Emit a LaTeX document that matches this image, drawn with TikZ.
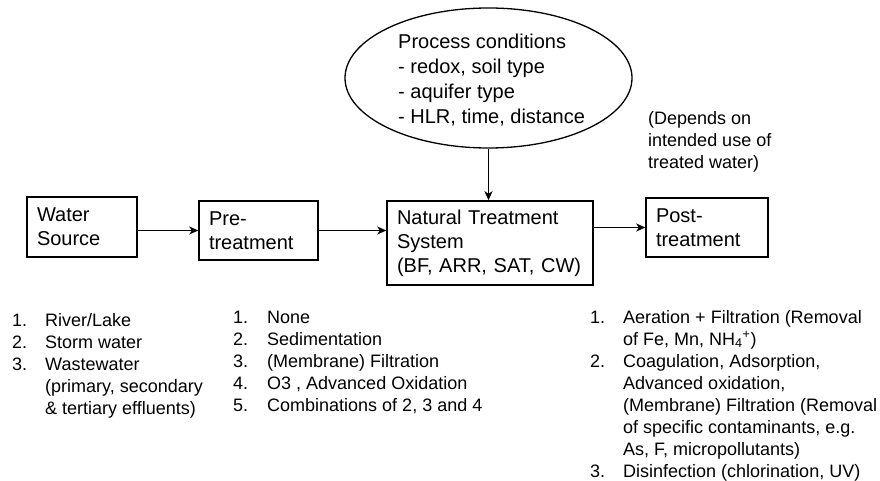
\documentclass[tikz,border=0pt]{standalone}
\usepackage{fontspec}
\setmainfont{Liberation Sans}
\usetikzlibrary{shapes.geometric,arrows.meta}
\tikzset{
  box/.style={draw, line width=1.5pt, inner xsep=10pt, inner ysep=0pt, align=left,
    font=\fontsize{20}{24}\selectfont},
  flow/.style={line width=1.5pt, -{Stealth[length=9pt,width=8pt,inset=2.5pt]}},
  listtext/.style={inner sep=0pt, anchor=base west, font=\fontsize{18}{22}\selectfont},
}
\begin{document}
\begin{tikzpicture}[x=1pt,y=-1pt]
\useasboundingbox (0,0) rectangle (880,481);
\fill[white] (0,0) rectangle (880,481);

\node[box, minimum width=110pt, minimum height=60pt, text width=90pt] (ws) at (82,227) {Water\\Source};
\node[box, minimum width=119pt, minimum height=59pt, text width=99pt] (pre) at (258.5,230.5) {Pre-\\treatment};
\node[box, minimum width=206pt, minimum height=84pt, text width=186pt] (nts) at (490,243) {Natural Treatment\\System\\(BF, ARR, SAT, CW)};
\node[box, minimum width=122pt, minimum height=59pt, text width=102pt] (post) at (707,227.5) {Post-\\treatment};

\node[draw, ellipse, line width=1.3pt, minimum width=287pt, minimum height=140pt, inner sep=0pt] (ell) at (488.5,78) {};
\node[inner sep=0pt, anchor=base west, font=\fontsize{20}{24.7}\selectfont] (elltext) at (398,49)
  {\begin{tabular}[t]{@{}l@{}}Process conditions\\- redox, soil type\\- aquifer type\\- HLR, time, distance\end{tabular}};

\node[listtext] (dep) at (648,125)
  {\begin{tabular}[t]{@{}l@{}}(Depends on\\intended use of\\treated water)\end{tabular}};

\draw[flow] (ws.east |- pre.west) -- (pre.west);
\draw[flow] (pre.east) -- (pre.east -| nts.west);
\draw[flow] (nts.east |- post.west) -- (post.west);
\draw[flow] (ell.south) -- (ell.south |- nts.north);

\node[listtext] (l1) at (12,326)
  {\begin{tabular}[t]{@{}p{33pt}@{}l@{}}
  1. & River/Lake\\
  2. & Storm water\\
  3. & Wastewater\\
     & (primary, secondary\\
     & \& tertiary effluents)
  \end{tabular}};

\node[listtext] (l2) at (233,323)
  {\begin{tabular}[t]{@{}p{34pt}@{}l@{}}
  1. & None\\
  2. & Sedimentation\\
  3. & (Membrane) Filtration\\
  4. & O3 , Advanced Oxidation\\
  5. & Combinations of 2, 3 and 4
  \end{tabular}};

\node[listtext] (l3) at (590,323)
  {\begin{tabular}[t]{@{}p{33pt}@{}l@{}}
  1. & Aeration + Filtration (Removal\\
     & of Fe, Mn, NH\textsubscript{4}\textsuperscript{+})\\
  2. & Coagulation, Adsorption,\\
     & Advanced oxidation,\\
     & (Membrane) Filtration (Removal\\
     & of specific contaminants, e.g.\\
     & As, F, micropollutants)\\
  3. & Disinfection (chlorination, UV)
  \end{tabular}};
\end{tikzpicture}
\end{document}
